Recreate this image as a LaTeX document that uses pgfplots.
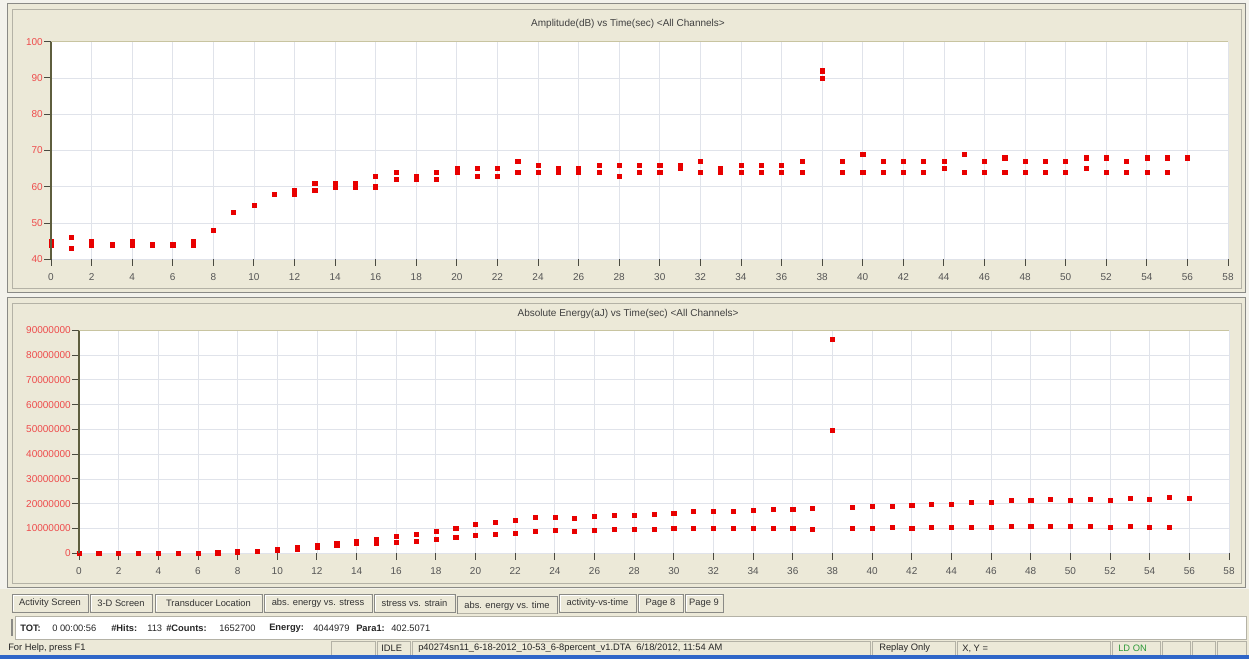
\documentclass[border=0pt]{standalone}
\usepackage{fontspec}
\setmainfont{Liberation Sans}
\usepackage{pgfplots}
\usepackage{pgfplotstable}
\pgfplotsset{compat=1.18}
\definecolor{bg}{HTML}{ECE9D8}
\definecolor{outerbg}{HTML}{F3F2EC}
\definecolor{frameA}{HTML}{8A8A86}
\definecolor{frameB}{HTML}{B4B2A6}
\definecolor{gridc}{HTML}{E0E3EA}
\definecolor{ylab}{HTML}{EE4B4B}
\definecolor{xlab}{HTML}{555555}
\definecolor{tickc}{HTML}{4A4A40}
\definecolor{axl}{HTML}{5E5E3E}
\definecolor{topl}{HTML}{C8C4A0}
\definecolor{mk}{HTML}{E80000}
\definecolor{blu}{HTML}{2F66C8}
\definecolor{ldg}{HTML}{2E9A3A}
\newcommand{\sm}{\fontsize{7.5}{9}\selectfont}
\newcommand{\tb}{\fontsize{7}{8.5}\selectfont}

\pgfplotstableread{
t a
0 44
0 45
1 46
1 43
2 44
2 45
3 44
3 44
4 44
4 45
5 44
5 44
6 44
6 44
7 44
7 45
8 48
8 48
9 53
9 53
10 55
10 55
11 58
11 58
12 58
12 59
13 61
13 59
14 60
14 61
15 60
15 61
16 63
16 60
17 64
17 62
18 62
18 63
19 64
19 62
20 64
20 65
21 65
21 63
22 65
22 63
23 67
23 64
24 66
24 64
25 64
25 65
26 64
26 65
27 66
27 64
28 66
28 63
29 66
29 64
30 66
30 64
31 65
31 66
32 67
32 64
33 64
33 65
34 66
34 64
35 66
35 64
36 66
36 64
37 67
37 64
38 92
38 90
39 67
39 64
40 69
40 64
41 67
41 64
42 67
42 64
43 67
43 64
44 67
44 65
45 69
45 64
46 67
46 64
47 68
47 64
48 67
48 64
49 67
49 64
50 67
50 64
51 68
51 65
52 68
52 64
53 67
53 64
54 68
54 64
55 68
55 64
56 68
}\amp

\pgfplotstableread{
t e
0 100000
0 50000
1 100000
1 100000
2 100000
2 100000
3 100000
3 100000
4 100000
4 100000
5 100000
5 100000
6 100000
6 100000
7 200000
7 200000
8 900000
8 500000
9 800000
9 800000
10 1600000
10 1200000
11 2300000
11 1800000
12 3100000
12 2500000
13 3900000
13 3100000
14 4700000
14 3900000
15 5800000
15 4200000
16 7000000
16 4500000
17 7700000
17 5000000
18 9000000
18 5700000
19 10100000
19 6500000
20 11700000
20 7300000
21 12500000
21 7700000
22 13300000
22 8100000
23 14400000
23 9000000
24 14700000
24 9300000
25 14000000
25 8900000
26 14800000
26 9300000
27 15200000
27 9700000
28 15200000
28 9700000
29 15600000
29 9700000
30 16000000
30 10100000
31 16800000
31 10100000
32 16800000
32 10100000
33 16800000
33 10100000
34 17200000
34 10100000
35 17600000
35 10100000
36 17600000
36 10100000
37 18000000
37 9700000
38 86500000
38 49700000
39 18600000
39 10100000
40 19000000
40 10100000
41 19000000
41 10500000
42 19400000
42 10100000
43 19800000
43 10500000
44 19800000
44 10500000
45 20600000
45 10500000
46 20600000
46 10500000
47 21400000
47 10900000
48 21400000
48 10900000
49 21800000
49 10900000
50 21400000
50 10900000
51 21800000
51 10900000
52 21400000
52 10500000
53 22200000
53 10900000
54 21800000
54 10500000
55 22600000
55 10500000
56 22200000
}\ene

\pgfplotsset{scr/.style={
  scale only axis, anchor=south west, clip=false,
  axis background/.style={fill=white},
  axis line style={draw=none},
  grid=major, major grid style={color=gridc, line width=0.6pt},
  xmin=0, xmax=58, xtick distance=2,
  tick align=outside, major tick length=5pt,
  ytick pos=left, xtick pos=bottom,
  tick style={color=tickc, line width=0.7pt},
  tick label style={font=\sm},
  yticklabel style={color=ylab, inner sep=1pt},
  xticklabel style={color=xlab, yshift=-2pt},
  /pgf/number format/assume math mode=true,
  /pgf/number format/1000 sep={},
  /pgf/number format/fixed,
  scaled y ticks=false,
  after end axis/.code={
    \draw[axl, line width=1pt] (rel axis cs:0,0) -- (rel axis cs:0,1);
    \draw[topl, line width=0.8pt] (rel axis cs:0,1) -- (rel axis cs:1,1);
  },
}}

\begin{document}
\begin{tikzpicture}
\useasboundingbox (0,0) rectangle (936.75pt,494.25pt);
\begin{scope}[x=0.75pt,y=-0.75pt,shift={(0pt,494.25pt)}]
  \fill[outerbg] (0,0) rectangle (1249,659);
  % top panel
  \fill[bg] (7,3) rectangle (1246,293);
  \draw[frameA, line width=1.1pt] (7.5,3.5) rectangle (1245.5,292.5);
  \draw[frameB, line width=0.8pt] (12.5,9.5) rectangle (1241.5,288.5);
  \node[font=\sm, text=black!75] at (628,24) {Amplitude(dB) vs Time(sec) <All Channels>};
  % bottom panel
  \fill[bg] (7,297) rectangle (1246,588);
  \draw[frameA, line width=1.1pt] (7.5,297.5) rectangle (1245.5,587.5);
  \draw[frameB, line width=0.8pt] (12.5,303.5) rectangle (1241.5,583.5);
  \node[font=\sm, text=black!75] at (628,314) {Absolute Energy(aJ) vs Time(sec) <All Channels>};
  % tab row
  \fill[bg] (0,589) rectangle (1249,655);
  \draw[frameB] (457,613) -- (557,613);
  \foreach \a/\b/\t in {12/88/Activity Screen, 90/152/3-D Screen, 155/262/Transducer Location, 264/372/abs. energy vs. stress, 374/455/stress vs. strain, 559/636/activity-vs-time, 638/683/Page 8, 685/723/Page 9}{
    \draw[frameA, fill=bg, line width=0.6pt] (\a,594) rectangle (\b,612);
    \draw[white, line width=0.6pt] (\a+1,611) -- (\a+1,595) -- (\b-1,595);
    \node[font=\tb, text=black!80] at ({(\a+\b)/2},603.5) {\t};
  }
  \draw[frameA, line width=0.6pt] (457,614) -- (457,596) -- (557,596) -- (557,614);
  \node[font=\tb, text=black!80] at (507,606) {abs. energy vs. time};
  % info line
  \fill[white] (15,616) rectangle (1246,639);
  \draw[frameB, line width=0.6pt] (15,616) rectangle (1246,639);
  \draw[frameA, line width=0.8pt] (12,619) -- (12,636);
  \begin{scope}[every node/.style={font=\tb, anchor=west, inner sep=0pt, text=black!85}]
    \node at (20,628) {\textbf{TOT:}};
    \node at (52,628) {0 00:00:56};
    \node at (111,628) {\textbf{\#Hits:}};
    \node at (147,628) {113};
    \node at (166,628) {\textbf{\#Counts:}};
    \node at (219,628) {1652700};
    \node at (269,628) {\textbf{Energy:}};
    \node at (313,628) {4044979};
    \node at (356,628) {\textbf{Para1:}};
    \node at (391,628) {402.5071};
  \end{scope}
  % status bar
  \foreach \a/\b in {331/375, 377/410, 412/870, 872/955, 957/1110, 1112/1160, 1162/1190, 1192/1215, 1217/1246}{
    \draw[frameB, line width=0.6pt] (\a,641) rectangle (\b,655);
  }
  \begin{scope}[every node/.style={font=\tb, anchor=west, inner sep=0pt, text=black!85}]
    \node at (8,648.5) {For Help, press F1};
    \node at (381,648.5) {IDLE};
    \node at (418,648.5) {p40274sn11\_6-18-2012\_10-53\_6-8percent\_v1.DTA\ \ 6/18/2012, 11:54 AM};
    \node at (879,648.5) {Replay Only};
    \node at (962,648.5) {X, Y =};
    \node[text=ldg] at (1118,648.5) {LD ON};
  \end{scope}
  \fill[blu] (0,655.5) rectangle (1249,659);
\end{scope}

\begin{axis}[scr, at={(38.25pt,299.78pt)}, width=882.75pt, height=163.2pt,
  ymin=40, ymax=100, ytick distance=10]
  \addplot[only marks, mark=square*, mark size=1.55pt, color=mk] table[x=t,y=a] {\amp};
\end{axis}

\begin{axis}[scr, at={(59.25pt,79.28pt)}, width=862.5pt, height=167.25pt,
  ymin=0, ymax=90000000, ytick distance=10000000]
  \addplot[only marks, mark=square*, mark size=1.55pt, color=mk] table[x=t,y=e] {\ene};
\end{axis}
\end{tikzpicture}
\end{document}
